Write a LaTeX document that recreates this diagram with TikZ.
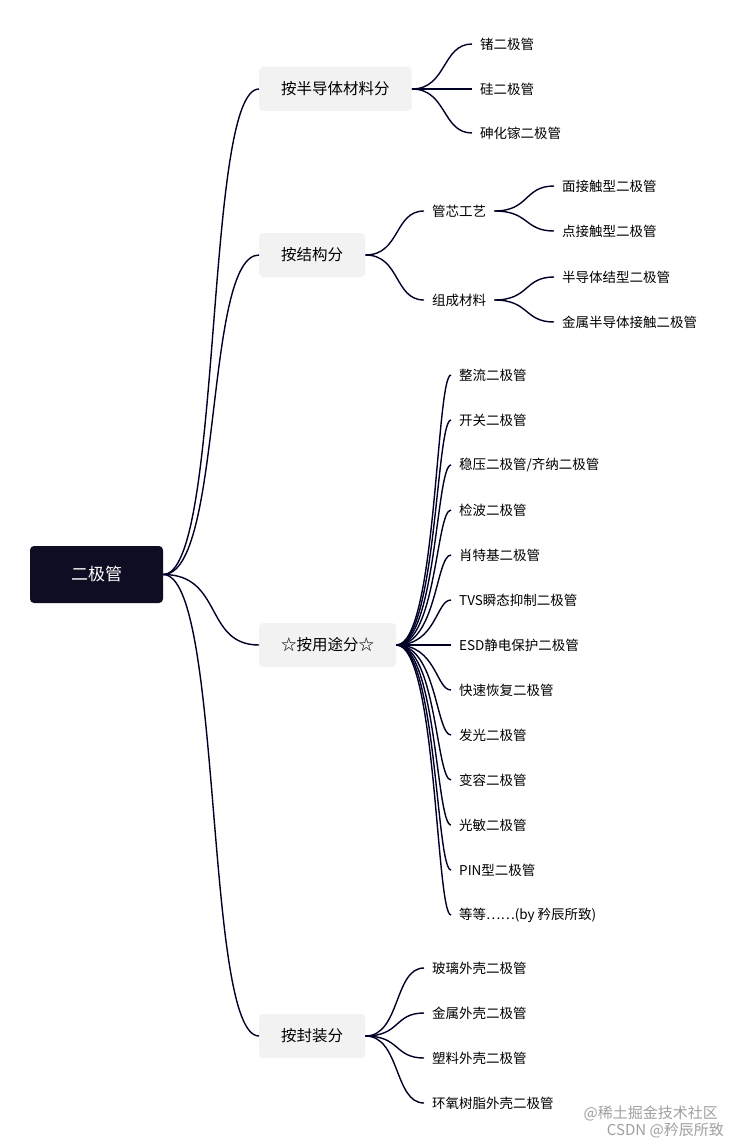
\documentclass[tikz,border=0pt]{standalone}
\usepackage{fontspec}
\setmainfont{Noto Sans CJK SC}
\begin{document}
\begin{tikzpicture}[x=1pt,y=-1pt,
  link/.style={draw=black!85!blue, line width=1.4pt},
  rootbox/.style={fill={rgb,255:red,15;green,13;blue,36}, rounded corners=4pt, text=white, font=\fontsize{17}{20}\selectfont, minimum width=133pt, minimum height=57pt},
  catbox/.style={fill={rgb,255:red,242;green,242;blue,242}, rounded corners=4pt, font=\fontsize{15.5}{18}\selectfont, minimum height=44pt, inner xsep=22pt, anchor=west},
  leaf/.style={anchor=west, inner xsep=8pt, inner ysep=2pt, font=\fontsize{13.5}{16}\selectfont},
  wmark/.style={text=gray!75, font=\fontsize{15}{17}\selectfont, inner sep=0pt}]
\useasboundingbox (0,0) rectangle (741,1148);
\node[rootbox] (root) at (96.5,574.5) {二极管};
\node[catbox] (c1) at (259,89) {按半导体材料分};
\node[catbox] (c2) at (259,255) {按结构分};
\node[catbox] (c3) at (259,645) {☆按用途分☆};
\node[catbox] (c4) at (259,1036) {按封装分};
\foreach \c in {c1,c2,c3,c4}
  \draw[link] (root.east) .. controls +(60,0) and +(-55,0) .. (\c.west);
% group 1
\node[leaf] (a1) at (472,44) {锗二极管};
\node[leaf] (a2) at (472,89) {硅二极管};
\node[leaf] (a3) at (472,133) {砷化镓二极管};
\foreach \n in {a1,a2,a3}
  \draw[link] (c1.east) .. controls +(35,0) and +(-30,0) .. (\n.west);
% group 2
\node[leaf] (b1) at (424,211) {管芯工艺};
\node[leaf] (b2) at (424,300) {组成材料};
\foreach \n in {b1,b2}
  \draw[link] (c2.east) .. controls +(35,0) and +(-30,0) .. (\n.west);
\node[leaf] (b11) at (554,186) {面接触型二极管};
\node[leaf] (b12) at (554,231) {点接触型二极管};
\node[leaf] (b21) at (554,277) {半导体结型二极管};
\node[leaf] (b22) at (554,322) {金属半导体接触二极管};
\draw[link] (b1.east) .. controls +(35,0) and +(-30,0) .. (b11.west);
\draw[link] (b1.east) .. controls +(35,0) and +(-30,0) .. (b12.west);
\draw[link] (b2.east) .. controls +(35,0) and +(-30,0) .. (b21.west);
\draw[link] (b2.east) .. controls +(35,0) and +(-30,0) .. (b22.west);
% group 3
\foreach \i/\t in {1/{整流二极管},2/{开关二极管},3/{稳压二极管/齐纳二极管},4/{检波二极管},5/{肖特基二极管},6/{TVS瞬态抑制二极管},7/{ESD静电保护二极管},8/{快速恢复二极管},9/{发光二极管},10/{变容二极管},11/{光敏二极管},12/{PIN型二极管},13/{等等\ldots\ldots(by 矜辰所致)}}{
  \node[leaf] (u\i) at (451,330+45*\i) {\t};
  \draw[link] (c3.east) .. controls +(40,0) and +(-15,0) .. (u\i.west);
}
% group 4
\node[leaf] (d1) at (424,968) {玻璃外壳二极管};
\node[leaf] (d2) at (424,1013) {金属外壳二极管};
\node[leaf] (d3) at (424,1058) {塑料外壳二极管};
\node[leaf] (d4) at (424,1103) {环氧树脂外壳二极管};
\foreach \n in {d1,d2,d3,d4}
  \draw[link] (c4.east) .. controls +(35,0) and +(-30,0) .. (\n.west);
\node[wmark, anchor=east] (w1) at (718,1113) {@稀土掘金技术社区};
\node[wmark, anchor=east] (w2) at (724,1130) {CSDN @矜辰所致};
\end{tikzpicture}
\end{document}
